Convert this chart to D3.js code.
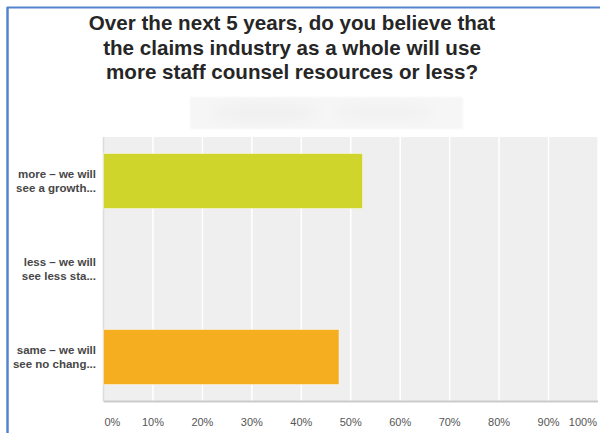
<!DOCTYPE html>
<html>
<head>
<meta charset="utf-8">
<script src="https://cdn.jsdelivr.net/npm/d3@7"></script>
<style>
  html, body { margin: 0; padding: 0; background: #fff; }
  svg { display: block; font-family: Arial, "Liberation Sans", sans-serif; }
</style>
</head>
<body>
<svg id="chart" width="600" height="433"></svg>
<script>
// Survey answers (two-line labels) and share of respondents
const categories = ["more", "less", "same"];
const labelLines = [
  ["more \u2013 we will", "see a growth..."],
  ["less \u2013 we will", "see less sta..."],
  ["same \u2013 we will", "see no chang..."]
];
const shares = [0.5238, 0, 0.4762];
const barColors = ["#cfd52a", "#cfd52a", "#f6ae21"];
const tickValues = [0, 0.1, 0.2, 0.3, 0.4, 0.5, 0.6, 0.7, 0.8, 0.9, 1.0];
const tickLabels = ["0%", "10%", "20%", "30%", "40%", "50%", "60%", "70%", "80%", "90%", "100%"];
const titleLines = [
  "Over the next 5 years, do you believe that",
  "the claims industry as a whole will use",
  "more staff counsel resources or less?"
];

const svg = d3.select("#chart");
const plot = { left: 103.5, right: 598, top: 137, bottom: 401 };

// frame
svg.append("line").attr("x1", 7).attr("x2", 600).attr("y1", 7.5).attr("y2", 7.5)
  .attr("stroke", "#5485cc").attr("stroke-width", 2);
svg.append("line").attr("x1", 7.5).attr("x2", 7.5).attr("y1", 7).attr("y2", 433)
  .attr("stroke", "#5485cc").attr("stroke-width", 2.5);

// title
svg.append("text")
  .attr("x", 292).attr("y", 30)
  .attr("text-anchor", "middle")
  .attr("font-size", "20.6px").attr("font-weight", "bold").attr("fill", "#262626")
  .selectAll("tspan").data(titleLines).join("tspan")
  .attr("x", 292).attr("dy", (d, i) => i === 0 ? 0 : 24.6)
  .text(d => d);

// soft grey subtitle band
const defs = svg.append("defs");
defs.append("filter").attr("id", "soft").attr("x", "-10%").attr("y", "-30%").attr("width", "120%").attr("height", "160%")
  .append("feGaussianBlur").attr("stdDeviation", 1.2);
defs.append("filter").attr("id", "softer").attr("x", "-20%").attr("y", "-50%").attr("width", "140%").attr("height", "200%")
  .append("feGaussianBlur").attr("stdDeviation", 7);
svg.append("rect").attr("x", 190).attr("y", 97).attr("width", 273).attr("height", 32)
  .attr("fill", "#f6f6f6").attr("filter", "url(#soft)");
svg.append("ellipse").attr("cx", 265).attr("cy", 113).attr("rx", 55).attr("ry", 8)
  .attr("fill", "#efefef").attr("filter", "url(#softer)");
svg.append("ellipse").attr("cx", 385).attr("cy", 112).attr("rx", 50).attr("ry", 7)
  .attr("fill", "#f0f0f0").attr("filter", "url(#softer)");

// scales
const x = d3.scaleLinear().domain([0, 1]).range([plot.left, plot.right]);
const y = d3.scaleBand().domain(categories).range([plot.top, plot.bottom])
  .paddingInner(0.375).paddingOuter(0.1875);

// plot background
svg.append("rect").attr("x", plot.left).attr("y", plot.top)
  .attr("width", plot.right - plot.left).attr("height", plot.bottom - plot.top)
  .attr("fill", "#efefef");

// vertical gridlines
svg.append("g").selectAll("line").data(tickValues.slice(1)).join("line")
  .attr("x1", d => x(d)).attr("x2", d => x(d))
  .attr("y1", plot.top).attr("y2", plot.bottom)
  .attr("stroke", "#ffffff").attr("stroke-width", 1.5);

// left edge and baseline
svg.append("line").attr("x1", plot.left).attr("x2", plot.left)
  .attr("y1", plot.top).attr("y2", plot.bottom)
  .attr("stroke", "#dcdcdc").attr("stroke-width", 1.5);
svg.append("line").attr("x1", plot.left).attr("x2", plot.right)
  .attr("y1", plot.bottom + 0.5).attr("y2", plot.bottom + 0.5)
  .attr("stroke", "#cbcbcb").attr("stroke-width", 2);

// bars
svg.append("g").selectAll("rect").data(categories).join("rect")
  .attr("x", x(0))
  .attr("y", d => y(d))
  .attr("width", (d, i) => x(shares[i]) - x(0))
  .attr("height", y.bandwidth())
  .attr("fill", (d, i) => barColors[i])
  .attr("stroke", "rgba(255,255,255,0.45)").attr("stroke-width", 1)
  .style("display", (d, i) => shares[i] > 0 ? null : "none");

// category labels
const cat = svg.append("g").selectAll("text").data(categories).join("text")
  .attr("text-anchor", "end")
  .attr("font-size", "11.5px").attr("font-weight", "bold").attr("fill", "#474747");
cat.each(function (d, i) {
  const c = y(d) + y.bandwidth() / 2;
  d3.select(this).selectAll("tspan").data(labelLines[i]).join("tspan")
    .attr("x", 96)
    .attr("y", (t, j) => c - 3 + j * 14)
    .text(t => t);
});

// x axis labels
svg.append("g").selectAll("text").data(tickValues).join("text")
  .attr("x", (d, i) => i === 0 ? x(d) + 1 : (i === tickValues.length - 1 ? x(d) - 1 : x(d)))
  .attr("y", 426)
  .attr("text-anchor", (d, i) => i === 0 ? "start" : (i === tickValues.length - 1 ? "end" : "middle"))
  .attr("font-size", "11px").attr("fill", "#555")
  .text((d, i) => tickLabels[i]);
</script>
</body>
</html>
